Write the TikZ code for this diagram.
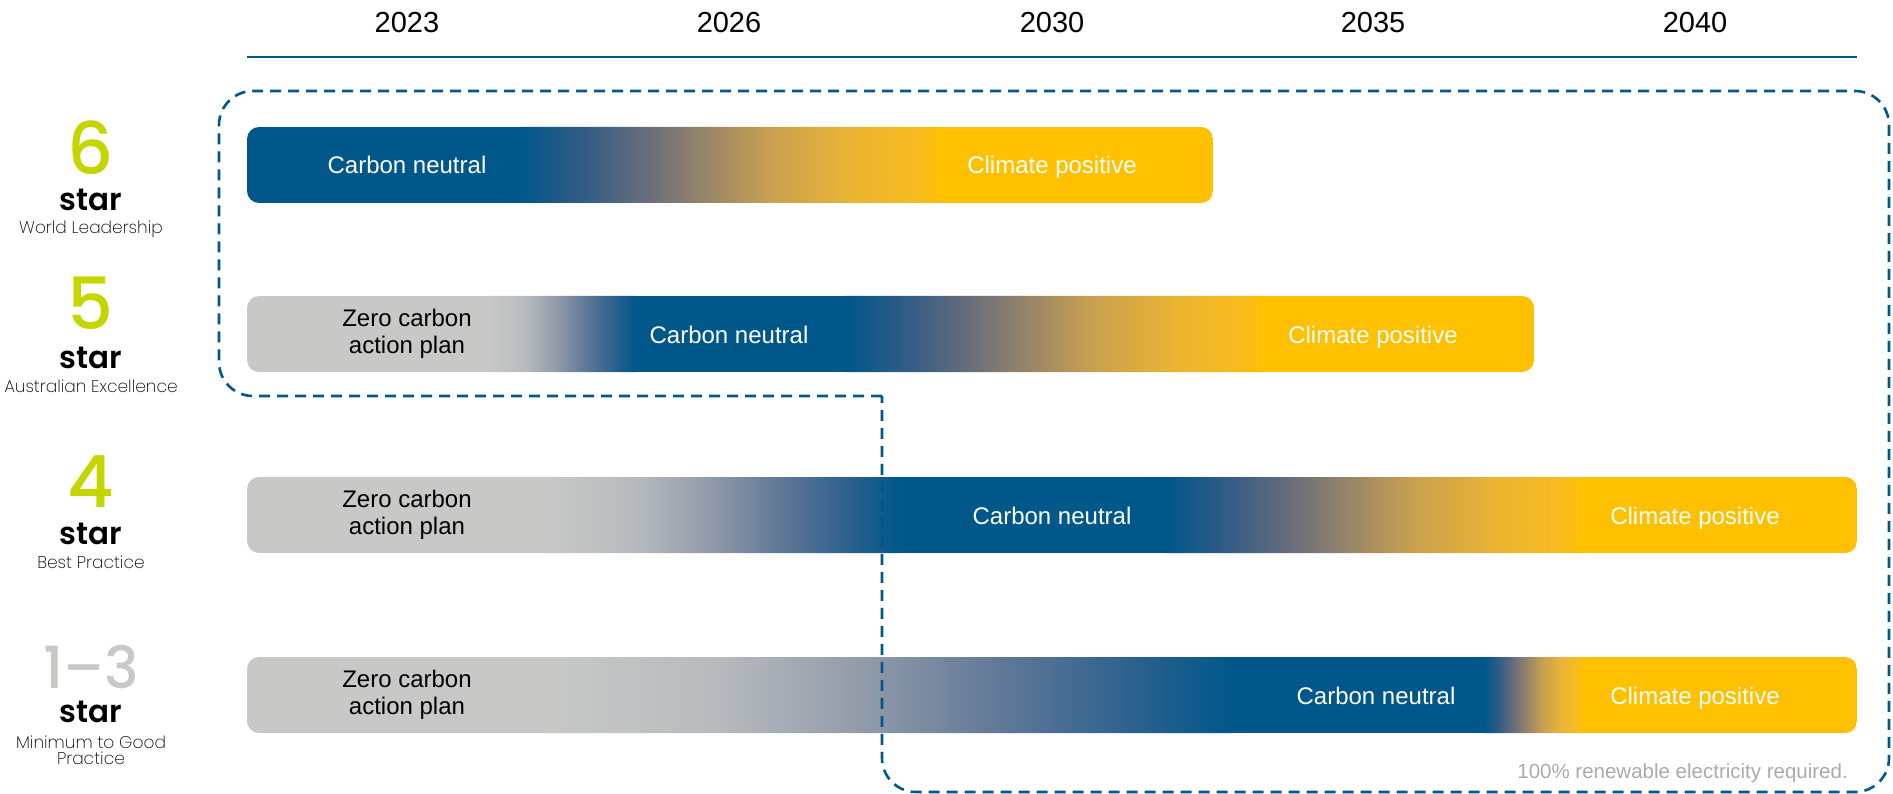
\documentclass[tikz,border=0pt]{standalone}
\usepackage{fontspec}
\setmainfont{Liberation Sans}
\newfontfamily\popmed{Poppins Medium}
\newfontfamily\popsemi{Poppins SemiBold}
\newfontfamily\poplight{Poppins ExtraLight}

% palette
\definecolor{cblue}{RGB}{0,87,138}
\definecolor{cgold}{RGB}{255,192,0}
\definecolor{cgrey}{RGB}{200,201,199}
\definecolor{cgreen}{RGB}{196,214,0}
\definecolor{cnote}{RGB}{170,170,170}
% blue -> gold transition
\definecolor{bg1}{RGB}{50,92,133}
\definecolor{bg2}{RGB}{105,110,124}
\definecolor{bg3}{RGB}{155,135,103}
\definecolor{bg4}{RGB}{202,161,78}
\definecolor{bg5}{RGB}{236,181,50}
\definecolor{bg6}{RGB}{248,188,30}
% grey -> blue transition
\definecolor{gb1}{RGB}{183,187,190}
\definecolor{gb2}{RGB}{148,157,170}
\definecolor{gb3}{RGB}{100,122,152}
\definecolor{gb4}{RGB}{45,97,142}

\pgfdeclarehorizontalshading{bluegold}{100bp}{%
  color(0bp)=(cblue); color(25bp)=(cblue);
  color(32.5bp)=(bg1); color(40bp)=(bg2); color(47.5bp)=(bg3);
  color(55bp)=(bg4); color(65bp)=(bg5); color(72.5bp)=(bg6);
  color(75bp)=(cgold); color(100bp)=(cgold)}
\pgfdeclarehorizontalshading{greyblue}{100bp}{%
  color(0bp)=(cgrey); color(25bp)=(cgrey);
  color(37.5bp)=(gb1); color(47.5bp)=(gb2); color(57.5bp)=(gb3);
  color(67.5bp)=(gb4); color(75bp)=(cblue); color(100bp)=(cblue)}

\tikzset{
  bartext/.style={font=\fontsize{24}{27}\selectfont, align=center, inner sep=0pt},
  yearlabel/.style={font=\fontsize{29}{32}\selectfont, anchor=base, inner sep=0pt},
  digit/.style={font=\popmed\fontsize{72}{72}\selectfont, text=cgreen, anchor=base, inner sep=0pt},
  starword/.style={font=\popsemi\fontsize{31}{31}\selectfont, anchor=base, inner sep=0pt},
  tier/.style={font=\poplight\fontsize{17}{16}\selectfont, align=center, inner sep=0pt, text=black},
  boundary/.style={draw=cblue, line width=2.6pt, dash pattern=on 11pt off 7pt},
}

\begin{document}
\begin{tikzpicture}[x=1pt, y=-1pt]
\useasboundingbox (0,0) rectangle (1893,794);

% timeline header
\foreach \yr/\xx in {2023/407, 2026/729, 2030/1052, 2035/1373, 2040/1695}
  \node[yearlabel] (y\yr) at (\xx,33) {\yr};
\coordinate (axisL) at (247,57);
\coordinate (axisR) at (1857,57);
\draw[cblue, line width=1.6pt] (axisL) -- (axisR);

% row 1: 6 star
\begin{scope}
  \clip[rounded corners=12] (247,127) rectangle (1213,203);
  \fill[cblue] (247,127) rectangle (522,203);
  \shade[shading=bluegold] (521,127) rectangle (941,203);
  \fill[cgold] (940,127) rectangle (1213,203);
\end{scope}
\node[bartext, text=white, anchor=base] (r1cn) at (407,174) {Carbon neutral};
\node[bartext, text=white, anchor=base] (r1cp) at (1052,174) {Climate positive};

% row 2: 5 star
\begin{scope}
  \clip[rounded corners=12] (247,296) rectangle (1534,372);
  \fill[cgrey] (247,296) rectangle (489,372);
  \shade[shading=greyblue] (488,296) rectangle (635,372);
  \fill[cblue] (634,296) rectangle (846,372);
  \shade[shading=bluegold] (845,296) rectangle (1262,372);
  \fill[cgold] (1261,296) rectangle (1534,372);
\end{scope}
\node[bartext] (r2zc) at (407,334) {Zero carbon\\action plan};
\node[bartext, text=white, anchor=base] (r2cn) at (729,343) {Carbon neutral};
\node[bartext, text=white, anchor=base] (r2cp) at (1373,343) {Climate positive};

% row 3: 4 star
\begin{scope}
  \clip[rounded corners=12] (247,477) rectangle (1857,553);
  \fill[cgrey] (247,477) rectangle (545,553);
  \shade[shading=greyblue] (544,477) rectangle (900,553);
  \fill[cblue] (899,477) rectangle (1166,553);
  \shade[shading=bluegold] (1165,477) rectangle (1583,553);
  \fill[cgold] (1582,477) rectangle (1857,553);
\end{scope}
\node[bartext] (r3zc) at (407,515) {Zero carbon\\action plan};
\node[bartext, text=white, anchor=base] (r3cn) at (1052,524) {Carbon neutral};
\node[bartext, text=white, anchor=base] (r3cp) at (1695,524) {Climate positive};

% row 4: 1-3 star
\begin{scope}
  \clip[rounded corners=12] (247,657) rectangle (1857,733);
  \fill[cgrey] (247,657) rectangle (545,733);
  \shade[shading=greyblue] (544,657) rectangle (1232,733);
  \fill[cblue] (1231,657) rectangle (1485,733);
  \shade[shading=bluegold] (1484,657) rectangle (1583,733);
  \fill[cgold] (1582,657) rectangle (1857,733);
\end{scope}
\node[bartext] (r4zc) at (407,695) {Zero carbon\\action plan};
\node[bartext, text=white, anchor=base] (r4cn) at (1376,704) {Carbon neutral};
\node[bartext, text=white, anchor=base] (r4cp) at (1695,704) {Climate positive};

% star ratings
\node[digit] (d6) at (91,175) {6};
\node[starword] (s6) at (91,211) {star};
\node[tier, anchor=base] (t6) at (91,234) {World Leadership};

\node[digit] (d5) at (91,330) {5};
\node[starword] (s5) at (91,368) {star};
\node[tier, anchor=base] (t5) at (91,392) {Australian Excellence};

\node[digit] (d4) at (91,507) {4};
\node[starword] (s4) at (91,544) {star};
\node[tier, anchor=base] (t4) at (91,568) {Best Practice};

\node[digit, text=cgrey, font=\popmed\fontsize{58}{58}\selectfont] (d13) at (91,688) {1–3};
\node[starword] (s13) at (91,722) {star};
\node[tier] (t13) at (91,750) {Minimum to Good\\Practice};

% renewable-electricity boundary
\coordinate (bA) at (882,396);
\coordinate (bB) at (219,396);
\coordinate (bC) at (219,91);
\coordinate (bD) at (1889,91);
\coordinate (bE) at (1889,792);
\coordinate (bF) at (882,792);
\draw[boundary] (bA) [rounded corners=34] -- (bB) -- (bC) -- (bD) -- (bE) -- (bF) -- (bA);

\node[font=\fontsize{20.5}{24}\selectfont, text=cnote, anchor=base east, inner sep=0pt]
  (note) at (1848,778) {100\%  renewable  electricity  required.};
\end{tikzpicture}
\end{document}
